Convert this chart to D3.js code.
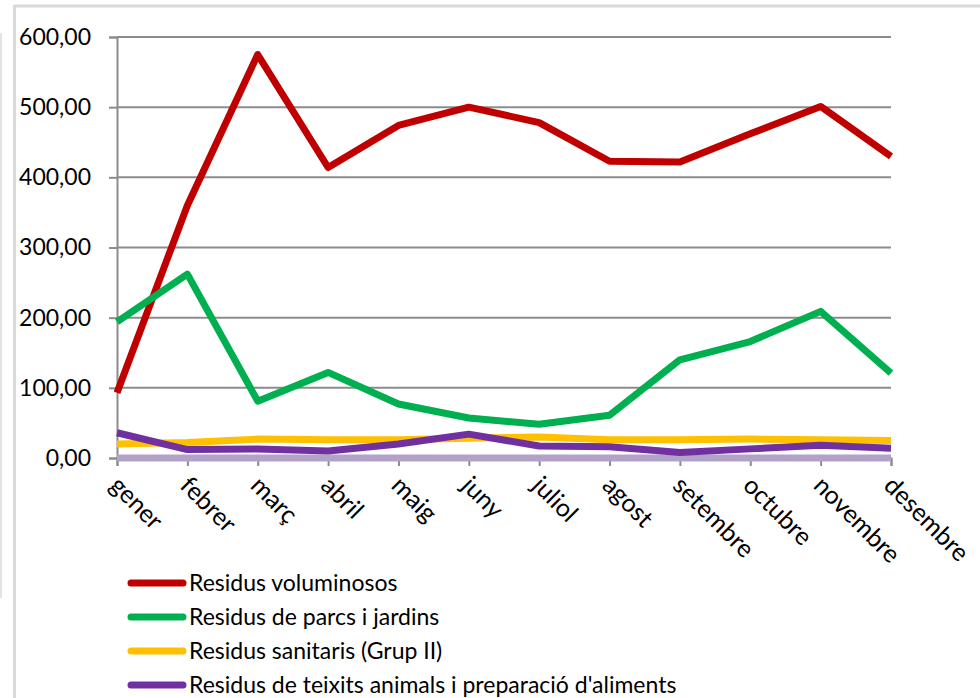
<!DOCTYPE html>
<html><head><meta charset="utf-8">
<script src="https://cdn.jsdelivr.net/npm/d3@7"></script>
<style>
html,body{margin:0;padding:0;background:#fff;}
svg{display:block;font-family:Lato, "Open Sans", sans-serif;}
</style></head>
<body><svg id="chart" width="980" height="698"></svg>
<script>
const months = ["gener","febrer","març","abril","maig","juny","juliol","agost","setembre","octubre","novembre","desembre"];
const voluminosos = [93,360,575,414,474,500,478,423,422,462,501,430];
const parcsJardins = [194,262,81,122,77,57,48,61,140,166,209,121];
const sanitaris = [20,22,27,26,26,28,30,26,26,27,26,25];
const teixitsAnimals = [36,12,13,10,20,34,17,16,8,13,18,14];
const altres = [0,0,0,0,0,0,0,0,0,0,0,0];
const yTicks = [0,100,200,300,400,500,600];

const series = [
  {name:"Residus voluminosos", values:voluminosos, color:"#c00000", legend:true},
  {name:"Residus de parcs i jardins", values:parcsJardins, color:"#00b050", legend:true},
  {name:"Residus sanitaris (Grup II)", values:sanitaris, color:"#ffc000", legend:true},
  {name:"Residus de teixits animals i preparació d'aliments", values:teixitsAnimals, color:"#7030a0", legend:true},
  {name:"altres", values:altres, color:"#b3a2c7", legend:false}
];
const drawOrder = [4,0,1,2,3];

const svg = d3.select("#chart");
// frame lines
svg.append("line").attr("x1",1).attr("x2",1).attr("y1",33).attr("y2",598).attr("stroke","#e3e3e3").attr("stroke-width",2);
svg.append("line").attr("x1",14.5).attr("x2",14.5).attr("y1",5).attr("y2",698).attr("stroke","#d9d9d9").attr("stroke-width",3);
svg.append("line").attr("x1",14).attr("x2",980).attr("y1",6).attr("y2",6).attr("stroke","#d9d9d9").attr("stroke-width",3);

const x = d3.scalePoint().domain(months).range([117,891]);
const y = d3.scaleLinear().domain([0,600]).range([458,37]);
const fmt = v => d3.format(".2f")(v).replace(".",",");

// gridlines
svg.append("g").selectAll("line").data(yTicks.filter(v=>v>0)).join("line")
  .attr("x1",117).attr("x2",891).attr("y1",d=>y(d)).attr("y2",d=>y(d))
  .attr("stroke","#8c8c8c").attr("stroke-width",2);

// y axis
const yAxis = svg.append("g").attr("transform","translate(117,0)")
  .call(d3.axisLeft(y).tickValues(yTicks).tickFormat(fmt).tickSize(8).tickPadding(18));
yAxis.select(".domain").attr("stroke","#8c8c8c").attr("stroke-width",2);
yAxis.selectAll(".tick line").attr("stroke","#8c8c8c").attr("stroke-width",2);
yAxis.selectAll("text").attr("font-size",23).attr("fill","#000").attr("font-family","Lato");

// x axis
const xAxis = svg.append("g").attr("transform","translate(0,458)")
  .call(d3.axisBottom(x).tickSize(8).tickPadding(0));
xAxis.select(".domain").attr("stroke","#8c8c8c").attr("stroke-width",2);
xAxis.selectAll(".tick line").attr("stroke","#8c8c8c").attr("stroke-width",2);
xAxis.selectAll(".tick text")
  .attr("font-size",25).attr("fill","#000").attr("font-family","Lato")
  .attr("text-anchor","start").attr("dy",null).attr("y",0)
  .attr("transform","translate(-9,29) rotate(45)");

// lines
const line = d3.line().x((d,i)=>x(months[i])).y(d=>y(d));
svg.append("g").selectAll("path").data(drawOrder.map(i=>series[i])).join("path")
  .attr("d",d=>line(d.values)).attr("fill","none")
  .attr("stroke",d=>d.color).attr("stroke-width",7)
  .attr("stroke-linejoin","round").attr("stroke-linecap","butt");

// legend
const leg = svg.append("g").selectAll("g").data(series.filter(s=>s.legend)).join("g")
  .attr("transform",(d,i)=>`translate(0,${583+i*34})`);
leg.append("line").attr("x1",131).attr("x2",183).attr("y1",0).attr("y2",0)
  .attr("stroke",d=>d.color).attr("stroke-width",7).attr("stroke-linecap","round");
leg.append("text").attr("x",189).attr("y",0).attr("dy","0.36em")
  .attr("font-size",23).attr("fill","#000").text(d=>d.name);
</script></body></html>
